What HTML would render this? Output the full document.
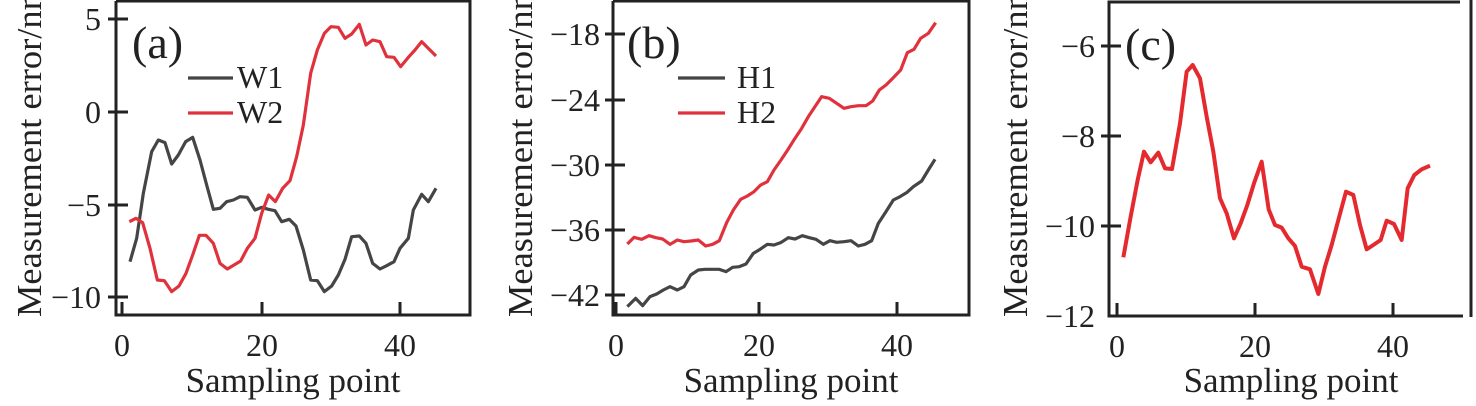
<!DOCTYPE html>
<html><head><meta charset="utf-8"><style>html,body{margin:0;padding:0;background:#fff}svg{display:block}
svg text{font-family:"Liberation Serif","Times New Roman","Nimbus Roman","DejaVu Serif","Noto Serif CJK SC",serif}
.t polyline{stroke-width:9.6}.t polyline.c{stroke-width:12}</style></head>
<body>
<svg width="1476" height="406" viewBox="0 0 1476 406" xmlns="http://www.w3.org/2000/svg" fill="#222" font-family="Liberation Serif">
<g stroke="#222" stroke-width="3" fill="none">
<polyline points="116,1 470,1 470,315 116,315 116,1"/>
<path d="M108,19H128M108,112H128M108,205H128M108,297H128M122,315V302M262,315V302M400,315V302"/>
<polyline points="613,1 969,1 969,315 613,315 613,1"/>
<path d="M605,34H625M605,100H625M605,165H625M605,230H625M605,295H625M616,315V302M759,315V302M897,315V302"/>
<polyline points="1460,2 1109,2 1109,316 1463,316"/>
<path d="M1471,0V317"/>
<path d="M1101,46H1121M1101,136H1121M1101,226H1121M1117,316V303M1255,316V303M1393,316V303"/>
</g>
<g font-size="32" text-anchor="end">
<text x="101" y="30">5</text><text x="101" y="123">0</text><text x="101" y="216">−5</text><text x="101" y="308">−10</text>
<text x="600" y="45">−18</text><text x="600" y="111">−24</text><text x="600" y="176">−30</text><text x="600" y="241">−36</text><text x="600" y="306">−42</text>
<text x="1095" y="57">−6</text><text x="1095" y="147">−8</text><text x="1095" y="237">−10</text><text x="1095" y="327">−12</text>
</g>
<g font-size="32" text-anchor="middle">
<text x="122" y="356">0</text><text x="262" y="356">20</text><text x="400" y="356">40</text>
<text x="616" y="356">0</text><text x="759" y="356">20</text><text x="897" y="356">40</text>
<text x="1117" y="357">0</text><text x="1255" y="357">20</text><text x="1393" y="357">40</text>
<text x="293" y="392" font-size="35">Sampling point</text>
<text x="791" y="392" font-size="35">Sampling point</text>
<text x="1291" y="392" font-size="35">Sampling point</text>
</g>
<g font-size="35">
<text transform="translate(41,317) rotate(-90)" textLength="335" lengthAdjust="spacingAndGlyphs">Measurement error/nm</text>
<text transform="translate(532,317) rotate(-90)" textLength="335" lengthAdjust="spacingAndGlyphs">Measurement error/nm</text>
<text transform="translate(1027,317) rotate(-90)" textLength="335" lengthAdjust="spacingAndGlyphs">Measurement error/nm</text>
</g>
<g font-size="46">
<text x="132" y="58">(a)</text><text x="627" y="58">(b)</text><text x="1125" y="60">(c)</text>
</g>
<g font-size="32">
<text x="237" y="88">W1</text><text x="237" y="123">W2</text>
<text x="737" y="88">H1</text><text x="737" y="123">H2</text>
</g>
<g fill="none" stroke-width="3.2" stroke-linejoin="round" class="t">
<path d="M188,78H233M678,78H725" stroke="#454545"/>
<path d="M188,113H233M678,113H725" stroke="#e0323c"/>
<g transform="scale(0.33333)">
<polyline stroke="#454545" points="390,785 410,715 430,580 455,455 475,420 495,428 515,492 535,465 557,425 578,412 600,480 620,555 640,628 660,625 680,605 700,600 720,590 742,592 765,630 785,622 805,628 825,632 845,665 868,658 888,678 910,750 932,840 952,842 973,875 995,858 1015,825 1035,778 1055,710 1078,708 1098,730 1118,790 1140,807 1160,797 1182,785 1200,745 1225,715 1240,630 1265,583 1285,605 1308,565"/>
<polyline stroke="#e0323c" points="388,665 408,655 428,668 450,745 472,840 493,842 515,875 537,858 558,820 578,765 598,706 618,706 640,730 660,790 682,807 702,795 722,783 742,745 765,715 785,640 806,585 826,605 848,565 870,542 890,470 910,375 932,220 952,150 973,100 993,80 1015,82 1035,115 1055,102 1078,73 1098,135 1118,120 1140,125 1160,170 1182,172 1202,200 1225,172 1245,150 1265,125 1285,145 1308,168"/>
</g>
<g transform="translate(490,0) scale(0.33333)">
<polyline stroke="#454545" points="412,920 437,895 458,917 480,890 500,882 520,870 540,860 562,870 582,860 602,825 625,810 645,808 665,808 688,808 708,815 728,802 748,800 768,792 790,760 810,748 832,733 852,735 872,728 895,713 915,717 937,707 958,713 978,718 1000,733 1020,722 1040,727 1062,725 1083,722 1105,738 1125,733 1145,722 1165,670 1188,635 1210,600 1230,590 1250,578 1270,560 1295,543 1315,510 1335,478"/>
<polyline stroke="#e0323c" points="412,732 432,712 455,718 477,707 498,713 518,717 540,733 562,720 582,725 603,723 625,720 647,738 668,733 688,722 710,668 730,630 752,598 772,588 792,575 812,555 832,545 852,510 873,480 893,450 913,418 935,385 955,350 975,320 995,290 1018,295 1040,310 1062,325 1083,320 1105,317 1128,317 1148,303 1168,270 1188,255 1208,235 1232,210 1252,158 1272,148 1292,115 1315,100 1337,68"/>
</g>
<g transform="translate(980,0) scale(0.33333)">
<polyline class="c" stroke="#e42a2e" points="430,772 452,650 473,540 492,455 512,487 535,458 555,505 576,507 600,370 620,215 638,195 660,235 680,350 700,455 720,595 740,640 762,715 782,670 802,615 822,550 845,485 866,628 885,675 905,683 925,715 945,738 965,800 990,808 1015,882 1035,800 1055,735 1075,660 1098,575 1120,585 1140,675 1160,748 1180,735 1202,720 1220,662 1242,672 1265,720 1283,565 1303,525 1325,508 1350,497"/>
</g>
</g>
</svg>
</body></html>
